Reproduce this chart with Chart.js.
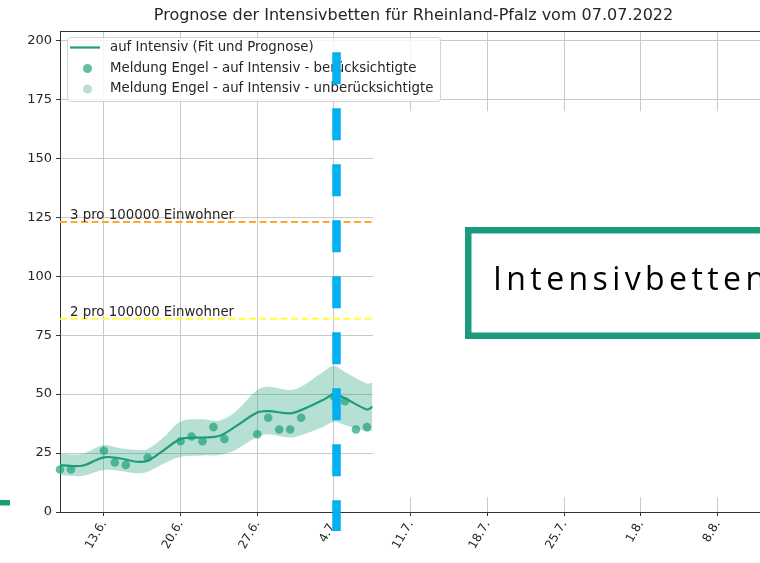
<!DOCTYPE html>
<html><head><meta charset="utf-8">
<script src="https://cdn.jsdelivr.net/npm/chart.js@4.4.0/dist/chart.umd.min.js"></script>
<style>html,body{margin:0;padding:0;background:#fff;overflow:hidden}#wrap{width:760px;height:563px;position:relative}</style>
</head><body><div id="wrap"><canvas id="c" width="760" height="563"></canvas></div>
<script>
const titleText = "Prognose der Intensivbetten für Rheinland-Pfalz vom 07.07.2022";
// x values are days relative to 13.6.2022
const xTickDays = [0, 7, 14, 21, 28, 35, 42, 49, 56];
const xTickLabels = ["13.6.", "20.6.", "27.6.", "4.7.", "11.7.", "18.7.", "25.7.", "1.8.", "8.8."];
const yTickValues = [0, 25, 50, 75, 100, 125, 150, 175, 200];

const fitDays   = [-4, -2, 0, 1.5, 3, 4, 5.5, 7, 9, 10.5, 12, 14, 15, 17, 18, 20, 21, 22, 24, 24.5];
const fitValues = [19.9, 19.6, 23.2, 22.7, 21.3, 21.7, 26.3, 30.9, 31.6, 32.2, 36.2, 42.2, 42.8, 41.8, 43.2, 47.5, 49.9, 48.2, 43.5, 44.6];
const fitUpper  = [24.6, 24.6, 28.4, 27.0, 26.3, 26.7, 31.9, 38.3, 39.3, 38.7, 42.5, 51.7, 53.1, 51.7, 53.1, 59.4, 61.9, 59.4, 54.5, 54.8];
const fitLower  = [15.7, 15.3, 17.8, 17.4, 16.4, 17.1, 20.6, 23.4, 24.0, 24.2, 26.3, 31.9, 33.0, 31.6, 32.6, 36.1, 38.3, 36.9, 34.3, 34.7];

const reportDays   = [-4, -3, 0, 1, 2, 4, 7, 8, 9, 10, 11, 14, 15, 16, 17, 18, 21, 22, 23, 24];
const reportValues = [18, 18, 26, 21, 20, 23, 30, 32, 30, 36, 31, 33, 40, 35, 35, 40, 49, 47, 35, 36];
const excludedDays = [];
const excludedValues = [];

const thresholdValues = [123, 82];
const thresholdLabels = ["3 pro 100000 Einwohner", "2 pro 100000 Einwohner"];
const thresholdColors = ["#ffa62b", "#ffff3a"];
const seriesLabels = ["auf Intensiv (Fit und Prognose)", "Meldung Engel - auf Intensiv - berücksichtigte", "Meldung Engel - auf Intensiv - unberücksichtigte"];
const forecastDay = 21.23;
const boxLabel = "Intensivbetten";
const xMin = -4, xMax = 59.87, yMin = 0, yMax = 204;

const TEAL = "#1b9e77";
const pts = (xs, ys) => xs.map((x, i) => ({x, y: ys[i]}));
const lastFit = fitDays[fitDays.length - 1];

const datasets = [
  {data: pts(fitDays, fitUpper), borderWidth: 0, pointRadius: 0, fill: '+1', backgroundColor: 'rgba(27,158,119,0.32)', tension: 0.35, order: 5},
  {data: pts(fitDays, fitLower), borderWidth: 0, pointRadius: 0, fill: false, tension: 0.35, order: 5},
  {label: seriesLabels[0], legendKind: 'line', data: pts(fitDays, fitValues), borderColor: TEAL, borderWidth: 2.2, pointRadius: 0, fill: false, tension: 0.35, order: 3},
  {label: seriesLabels[1], legendKind: 'dot', data: pts(reportDays, reportValues), showLine: false, pointRadius: 4.3, pointBorderWidth: 0, pointBackgroundColor: 'rgba(27,158,119,0.68)', borderColor: 'rgba(0,0,0,0)', clip: false, order: 1},
  {label: seriesLabels[2], legendKind: 'dot', data: pts(excludedDays, excludedValues), showLine: false, pointRadius: 4.3, pointBorderWidth: 0, pointBackgroundColor: 'rgba(27,158,119,0.32)', borderColor: 'rgba(0,0,0,0)', order: 1}
];
thresholdValues.forEach((v, i) => datasets.push({
  data: [{x: xMin, y: v}, {x: lastFit, y: v}], borderColor: thresholdColors[i], borderWidth: 2, borderDash: [7, 3.5], pointRadius: 0, fill: false, order: 4
}));

const FONT = 'DejaVu Sans';
const LABEL_PX = 13.33;

const overlay = {
  id: 'overlay',
  afterDatasetsDraw(chart) {
    const {ctx, chartArea: ca, scales: {x, y}} = chart;
    ctx.save();
    // threshold labels
    ctx.font = LABEL_PX + 'px "' + FONT + '"';
    ctx.fillStyle = '#262626';
    ctx.textAlign = 'left';
    ctx.textBaseline = 'alphabetic';
    thresholdValues.forEach((v, i) => {
      ctx.fillText(thresholdLabels[i], x.getPixelForValue(xMin) + 10, y.getPixelForValue(v) - 2.5);
    });
    // white cover over the right part
    ctx.fillStyle = '#fff';
    const wx = x.getPixelForValue(lastFit) + 0.5;
    const wTop = y.getPixelForValue(170), wBot = y.getPixelForValue(6.3);
    ctx.fillRect(wx, wTop, ca.right - wx + 5, wBot - wTop);
    // top spine
    ctx.strokeStyle = '#333';
    ctx.lineWidth = 1;
    ctx.beginPath(); ctx.moveTo(ca.left, ca.top + 0.5); ctx.lineTo(ca.right, ca.top + 0.5); ctx.stroke();
    // legend
    const lx = 67, ly = 37, lw = 373, lh = 64;
    ctx.beginPath();
    ctx.roundRect(lx + 0.5, ly + 0.5, lw, lh, 3);
    ctx.fillStyle = 'rgba(255,255,255,0.82)'; ctx.fill();
    ctx.strokeStyle = '#d4d4d4'; ctx.lineWidth = 1; ctx.stroke();
    const rowsY = [47.5, 68.5, 89];
    let r = 0;
    chart.data.datasets.forEach(ds => {
      if (!ds.legendKind) return;
      const ry = rowsY[r++];
      if (ds.legendKind === 'line') {
        ctx.strokeStyle = ds.borderColor; ctx.lineWidth = 2.2;
        ctx.beginPath(); ctx.moveTo(70, ry); ctx.lineTo(100, ry); ctx.stroke();
      } else {
        ctx.fillStyle = ds.pointBackgroundColor;
        ctx.beginPath(); ctx.arc(87.5, ry, 4.5, 0, Math.PI * 2); ctx.fill();
      }
      ctx.fillStyle = '#262626';
      ctx.font = LABEL_PX + 'px "' + FONT + '"';
      ctx.textBaseline = 'middle';
      ctx.fillText(ds.label, 110, ry);
    });
    // label box
    ctx.strokeStyle = '#1a9c7c';
    ctx.lineWidth = 6.5;
    ctx.strokeRect(468.25, 230.25, 400, 105.5);
    ctx.fillStyle = '#000';
    ctx.font = '32px "Open Sans"';
    ctx.letterSpacing = '4.4px';
    ctx.textBaseline = 'alphabetic';
    ctx.fillText(boxLabel, 493, 290);
    ctx.letterSpacing = '0px';
    // forecast date marker
    const bx = x.getPixelForValue(forecastDay);
    ctx.strokeStyle = '#00b0f0';
    ctx.lineWidth = 8.5;
    ctx.setLineDash([32, 24]);
    ctx.beginPath(); ctx.moveTo(bx, y.getPixelForValue(195)); ctx.lineTo(bx, y.getPixelForValue(-8.1)); ctx.stroke();
    ctx.setLineDash([]);
    // small teal mark at the left
    ctx.fillStyle = TEAL;
    ctx.fillRect(0, 500, 10, 5.5);
    // title
    ctx.fillStyle = '#262626';
    ctx.font = '16px "' + FONT + '"';
    ctx.textAlign = 'center';
    ctx.textBaseline = 'middle';
    ctx.fillText(titleText, 413.5, 16);
    ctx.restore();
  }
};

new Chart(document.getElementById('c'), {
  type: 'line',
  data: {datasets},
  options: {
    responsive: false, animation: false, devicePixelRatio: 1,
    layout: {autoPadding: false, padding: {top: 31, left: 0, right: 0, bottom: 0}},
    plugins: {legend: {display: false}, title: {display: false}, tooltip: {enabled: false}},
    scales: {
      x: {
        type: 'linear', min: xMin, max: xMax,
        afterBuildTicks: s => { s.ticks = xTickDays.map(v => ({value: v})); },
        afterFit: s => { s.height = 51; s.paddingLeft = 0; s.paddingRight = 0; },
        ticks: {
          callback: (v) => { const i = xTickDays.indexOf(v); return i >= 0 ? xTickLabels[i] : ''; },
          minRotation: 60, maxRotation: 60, autoSkip: false, padding: 2,
          font: {family: FONT, size: 12}, color: '#262626'
        },
        grid: {color: '#c9c9c9', lineWidth: 1, tickLength: 4, tickColor: '#333'},
        border: {color: '#333', width: 1}
      },
      y: {
        type: 'linear', min: yMin, max: yMax,
        afterBuildTicks: s => { s.ticks = yTickValues.map(v => ({value: v})); },
        afterFit: s => { s.width = 60; s.paddingTop = 0; s.paddingBottom = 0; },
        ticks: {padding: 4, font: {family: FONT, size: 13}, color: '#262626'},
        grid: {color: '#c9c9c9', lineWidth: 1, tickLength: 4, tickColor: '#333'},
        border: {color: '#333', width: 1}
      }
    }
  },
  plugins: [overlay]
});
</script></body></html>
